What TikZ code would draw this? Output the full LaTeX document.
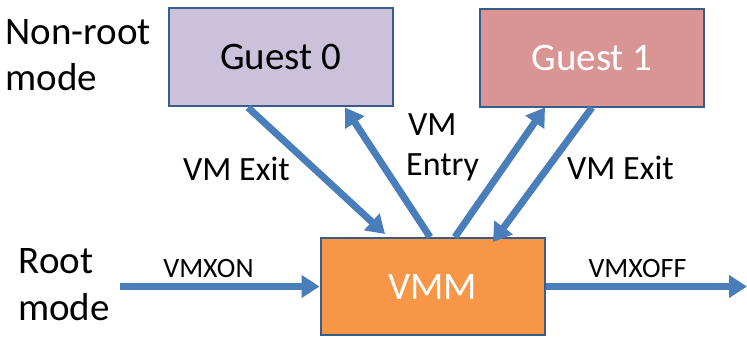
\documentclass[tikz,border=0pt]{standalone}
\usepackage{fontspec}
\setmainfont{Carlito}
\usetikzlibrary{arrows.meta}
\definecolor{boxline}{HTML}{385D8A}
\definecolor{arrowblue}{HTML}{4A7EBB}
\definecolor{guestzero}{HTML}{CCC1DA}
\definecolor{guestone}{HTML}{D99594}
\definecolor{vmmfill}{HTML}{F79646}
\tikzset{
  box/.style={draw=boxline, line width=2pt, minimum width=224pt, minimum height=97pt,
              inner sep=0pt, font=\fontsize{39}{46}\selectfont},
  flow/.style={draw=arrowblue, line width=7pt,
               -{Triangle[length=18pt,width=22pt]}},
  lbl/.style={inner sep=0pt, anchor=base west, font=\fontsize{39}{46}\selectfont},
  small/.style={inner sep=0pt, anchor=base west, font=\fontsize{34}{40}\selectfont},
  tiny/.style={inner sep=0pt, anchor=base, font=\fontsize{28}{34}\selectfont}
}
\begin{document}
\begin{tikzpicture}[x=1pt, y=-1pt]
  \useasboundingbox (0,0) rectangle (747,337);

  % guest and hypervisor boxes
  \node[box, fill=guestzero] (g0) at (280.5,57) {Guest 0};
  \node[box, fill=guestone, text=white] (g1) at (592,58) {Guest 1};
  \node[box, fill=vmmfill, text=white] (vmm) at (432.5,286.5) {VMM};

  % free ends of the horizontal transitions
  \coordinate (onstart) at (120,286.5);
  \coordinate (offend) at (747,286.5);

  % transitions between modes
  \draw[flow] ([xshift=-32.5pt,yshift=-1pt]g0.south) -- ([xshift=-47.5pt,yshift=3pt]vmm.north);
  \draw[flow] ([xshift=-2.5pt]vmm.north) -- ([xshift=64.5pt,yshift=-1pt]g0.south);
  \draw[flow] ([xshift=22.5pt]vmm.north) -- ([xshift=-47pt]g1.south);
  \draw[flow] (g1.south) -- ([xshift=60.5pt,yshift=-5pt]vmm.north);
  \draw[flow] (onstart) -- (vmm.west);
  \draw[flow] (vmm.east) -- (offend);

  % mode labels
  \node[lbl] (nr1) at (5.5,45) {Non-root};
  \node[lbl] (nr2) at (5.5,90) {mode};
  \node[lbl] (r1) at (18.5,273) {Root};
  \node[lbl] (r2) at (18,320) {mode};

  % transition labels
  \node[small] (exit0) at (183,180) {VM Exit};
  \node[small] (entry1) at (408,135) {VM};
  \node[small] (entry2) at (406,175) {Entry};
  \node[small] (exit1) at (567,179) {VM Exit};
  \node[tiny] (on) at (208.5,277) {VMXON};
  \node[tiny] (off) at (637.5,277) {VMXOFF};
\end{tikzpicture}
\end{document}
